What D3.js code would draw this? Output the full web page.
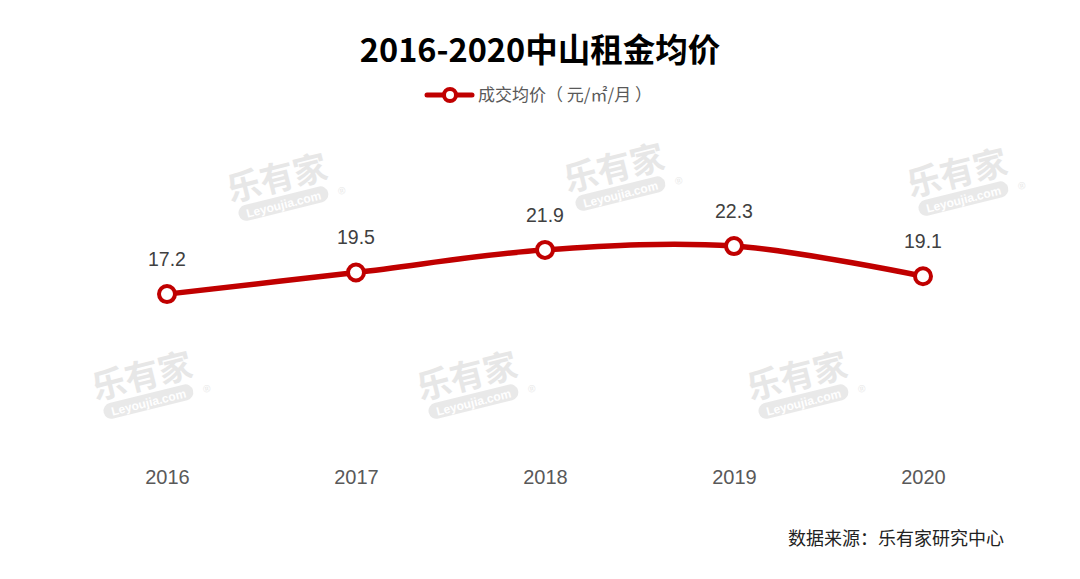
<!DOCTYPE html>
<html><head><meta charset="utf-8">
<script src="https://cdn.jsdelivr.net/npm/d3@7"></script>
<style>body{margin:0;background:#fff}svg{display:block}</style>
</head><body>
<svg id="c" width="1080" height="579"></svg>
<script>
const years = ["2016","2017","2018","2019","2020"];
const prices = [17.2, 19.5, 21.9, 22.3, 19.1];
const titleText = "2016-2020中山租金均价";
const seriesName = "成交均价（ 元/㎡/月 ）";
const sourceText = "数据来源：乐有家研究中心";

const svg = d3.select("#c");
const font = "'Noto Sans CJK SC','Microsoft YaHei',sans-serif";
const red = "#c00000";

// watermarks
const wm = [[280,190],[617,180],[960,185],[145,388],[470,388],[800,388]];
wm.forEach(([x,y])=>{
  const g = svg.append("g").attr("transform",`translate(${x},${y}) rotate(-14)`).attr("opacity",0.5);
  g.append("text").attr("text-anchor","middle").attr("y",0).attr("font-family",font)
    .attr("font-weight","bold").attr("font-size",34).attr("fill","#d0d0d0").text("乐有家");
  g.append("rect").attr("x",-46).attr("y",6).attr("width",92).attr("height",16).attr("rx",8).attr("fill","#d4d4d4");
  g.append("text").attr("text-anchor","middle").attr("y",19).attr("font-family","Arial,sans-serif")
    .attr("font-weight","bold").attr("font-size",12).attr("fill","#fff").text("Leyoujia.com");
  g.append("text").attr("x",56).attr("y",19).attr("font-family","Arial,sans-serif")
    .attr("font-size",10).attr("fill","#d0d0d0").text("®");
});

svg.append("text").attr("x",540).attr("y",62).attr("text-anchor","middle")
  .attr("font-family",font).attr("font-weight","bold").attr("font-size",32.5).attr("fill","#000").text(titleText);

// legend
const lg = svg.append("g");
lg.append("line").attr("x1",427).attr("x2",472).attr("y1",95).attr("y2",95).attr("stroke",red).attr("stroke-width",5).attr("stroke-linecap","round");
lg.append("circle").attr("cx",450).attr("cy",95).attr("r",6).attr("fill","#fff").attr("stroke",red).attr("stroke-width",4);
lg.append("text").attr("x",478).attr("y",101).attr("font-family",font).attr("font-size",17).attr("fill","#595959").text(seriesName);

const x = d3.scalePoint().domain(years).range([167, 923]);
const y = d3.scaleLinear().domain([0, 25]).range([456, 220.7]);

const xAxis = svg.append("g").attr("transform","translate(0,456)").call(d3.axisBottom(x).tickSize(0).tickPadding(14));
xAxis.select(".domain").remove();
xAxis.selectAll("text").attr("font-family","'Liberation Sans Narrow','Liberation Sans',Arial,sans-serif").attr("font-size",20).attr("fill","#595959");

const line = d3.line().x((d,i)=>x(years[i])).y(d=>y(d)).curve(d3.curveCatmullRom.alpha(0.5));
svg.append("path").datum(prices).attr("d",line).attr("fill","none").attr("stroke",red).attr("stroke-width",5.5);

svg.selectAll("circle.pt").data(prices).join("circle").attr("class","pt")
  .attr("cx",(d,i)=>x(years[i])).attr("cy",d=>y(d)).attr("r",8)
  .attr("fill","#fff").attr("stroke",red).attr("stroke-width",4);

svg.selectAll("text.lbl").data(prices).join("text").attr("class","lbl")
  .attr("x",(d,i)=>x(years[i])).attr("y",d=>y(d)-28).attr("text-anchor","middle")
  .attr("font-family","'Liberation Sans',Arial,sans-serif").attr("font-size",19.5).attr("fill","#404040")
  .text(d=>d.toFixed(1));

svg.append("text").attr("x",1004).attr("y",545).attr("text-anchor","end")
  .attr("font-family",font).attr("font-size",18).attr("fill","#222").text(sourceText);
</script>
</body></html>
